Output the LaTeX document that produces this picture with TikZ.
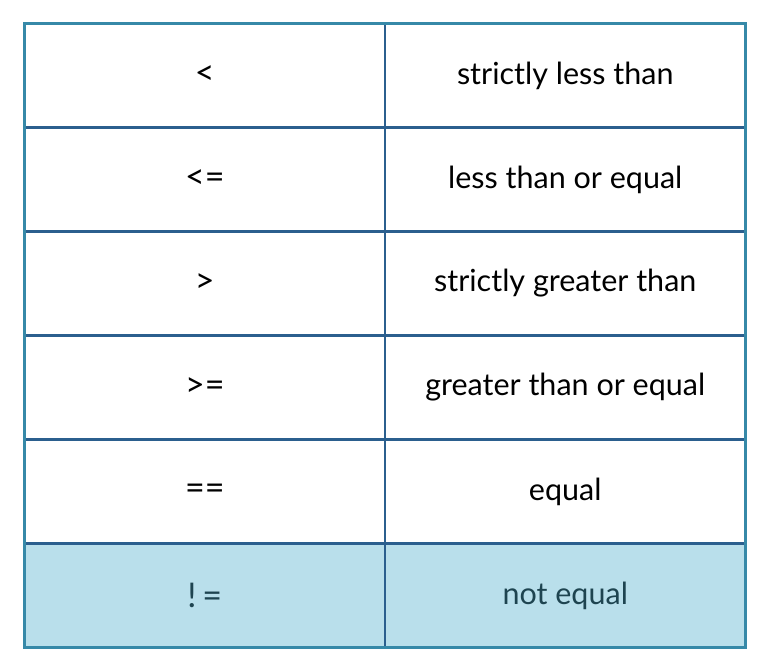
\documentclass[tikz,border=0pt]{standalone}
\usepackage{fontspec}
\setmainfont{Lato}
\usetikzlibrary{positioning, fit, backgrounds}
\definecolor{gridblue}{HTML}{2B5F8E}
\definecolor{frameteal}{HTML}{3689A8}
\definecolor{rowfill}{HTML}{B9DFEB}
\definecolor{rowtext}{HTML}{1E4450}
\tikzstyle{cell} = [rectangle, draw=gridblue, line width=2.5pt, outer sep=0pt, minimum width=360.5pt, minimum height=104pt, font=\fontsize{30.5}{34}\selectfont, align=center]
\tikzstyle{symcell} = [cell, font=\fontsize{34}{38}\selectfont]
\tikzstyle{lastcell} = [cell, fill=rowfill, text=rowtext]
\tikzstyle{tableframe} = [draw=frameteal, line width=3pt, inner sep=0pt]

\begin{document}
\begin{tikzpicture}[node distance=0pt and 0pt]
  \useasboundingbox (0pt,0pt) rectangle (776pt,-670pt);

  % Operator column (left)
  \node (sym1) [symcell] at (204.75pt,-75.5pt) {<};
  \node (sym2) [symcell, below=of sym1] {<=};
  \node (sym3) [symcell, below=of sym2] {>};
  \node (sym4) [symcell, below=of sym3] {>=};
  \node (sym5) [symcell, below=of sym4] {==};
  \node (sym6) [lastcell, below=of sym5, font=\fontsize{34}{38}\selectfont] {!\,=};

  % Meaning column (right)
  \node (desc1) [cell, right=of sym1] {strictly less than};
  \node (desc2) [cell, right=of sym2] {less than or equal};
  \node (desc3) [cell, right=of sym3] {strictly greater than};
  \node (desc4) [cell, right=of sym4] {greater than or equal};
  \node (desc5) [cell, right=of sym5] {equal};
  \node (desc6) [lastcell, right=of sym6] {not equal};

  % Outer frame
  \node (frame) [tableframe, fit=(sym1)(desc6)] {};

\end{tikzpicture}
\end{document}
